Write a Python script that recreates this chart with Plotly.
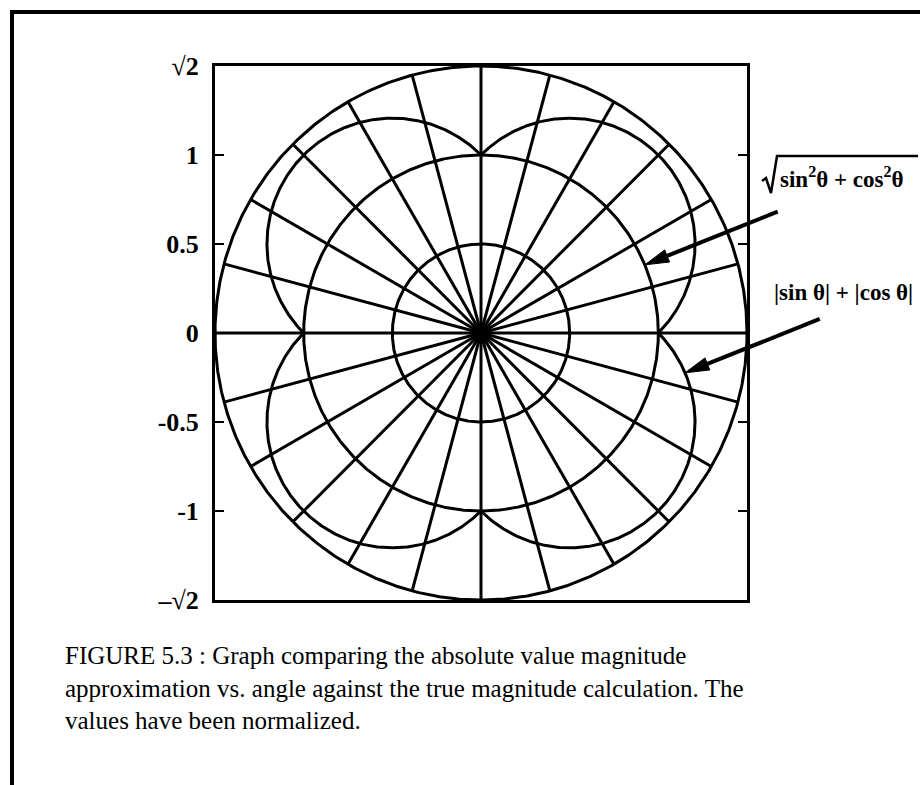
import numpy as np
import plotly.graph_objects as go

# ---- data -----------------------------------------------------------------
grid_radii = [0.5, 1.0, 1.5]                      # concentric rings
spoke_angles_deg = list(range(0, 360, 15))        # radial spokes
spoke_length = 1.5
curve_theta_deg = np.linspace(0, 360, 1441)       # sample angles for |sinθ|+|cosθ|

y_tick_vals = [-1.5, -1, -0.5, 0, 0.5, 1, 1.5]
y_tick_text = ["\u2013\u221a2", "-1", "-0.5", "0", "0.5", "1", "\u221a2"]

true_mag_arrow_deg = 22.5      # arrow target on the unit circle
approx_arrow_deg = -11.0       # arrow target on the |sin|+|cos| curve
true_mag_tail = (1.673, 0.682)
approx_tail = (1.910, 0.079)

caption_lines = [
    "FIGURE 5.3 : Graph comparing the absolute value magnitude",
    "approximation vs. angle against the true magnitude calculation. The",
    "values have been normalized.",
]

# ---- layout geometry (pixels) ---------------------------------------------
W, H = 920, 785
L, R, T, B = 215, 173, 66, 185
PW, PH = W - L - R, H - T - B
AX_MIN, AX_MAX = -1.5, 1.5


def px_to_paper(px, py):
    return (px - L) / PW, (H - B - py) / PH


def data_to_px(x, y):
    px = L + (x - AX_MIN) / (AX_MAX - AX_MIN) * PW
    py = H - B - (y - AX_MIN) / (AX_MAX - AX_MIN) * PH
    return px, py


def paper_path(points, close=False):
    s = "M " + " L ".join(
        "{:.4f},{:.4f}".format(*px_to_paper(px, py)) for px, py in points)
    return s + (" Z" if close else "")


INK = "#000000"
LW = 3

fig = go.Figure()

# rings
t = np.radians(np.linspace(0, 360, 721))
for r in grid_radii:
    fig.add_trace(go.Scatter(x=r * np.cos(t), y=r * np.sin(t), mode="lines",
                             line=dict(color=INK, width=LW), hoverinfo="skip"))

# spokes
sx, sy = [], []
for a in spoke_angles_deg:
    ar = np.radians(a)
    sx += [0, spoke_length * np.cos(ar), None]
    sy += [0, spoke_length * np.sin(ar), None]
fig.add_trace(go.Scatter(x=sx, y=sy, mode="lines",
                         line=dict(color=INK, width=LW), hoverinfo="skip"))

# |sin θ| + |cos θ|
th = np.radians(curve_theta_deg)
rc = np.abs(np.sin(th)) + np.abs(np.cos(th))
fig.add_trace(go.Scatter(x=rc * np.cos(th), y=rc * np.sin(th), mode="lines",
                         line=dict(color=INK, width=LW), hoverinfo="skip"))

# hub
fig.add_trace(go.Scatter(x=[0], y=[0], mode="markers",
                         marker=dict(color=INK, size=21), hoverinfo="skip"))

# arrows: shaft + filled head, drawn as shapes so they may leave the plot box
a1 = np.radians(true_mag_arrow_deg)
head1 = (1.0 * np.cos(a1), 1.0 * np.sin(a1))
a2 = np.radians(approx_arrow_deg)
r2 = abs(np.sin(a2)) + abs(np.cos(a2))
head2 = (r2 * np.cos(a2), r2 * np.sin(a2))

HEAD_LEN, HEAD_HALF = 24, 6.5
for head, tail in [(head1, true_mag_tail), (head2, approx_tail)]:
    hx, hy = data_to_px(*head)
    tx, ty = data_to_px(*tail)
    d = np.hypot(hx - tx, hy - ty)
    ux, uy = (hx - tx) / d, (hy - ty) / d
    bx, by = hx - ux * HEAD_LEN, hy - uy * HEAD_LEN
    nx, ny = -uy, ux
    fig.add_shape(type="path", path=paper_path([(tx, ty), (bx, by)]),
                  xref="paper", yref="paper", line=dict(color=INK, width=4))
    fig.add_shape(type="path", xref="paper", yref="paper",
                  path=paper_path([(hx, hy),
                                   (bx + nx * HEAD_HALF, by + ny * HEAD_HALF),
                                   (bx - nx * HEAD_HALF, by - ny * HEAD_HALF)],
                                  close=True),
                  fillcolor=INK, line=dict(color=INK, width=1))

label_font = dict(family="Liberation Serif", size=23, color=INK)

# √(sin²θ + cos²θ): text plus a drawn radical sign with its vinculum
lx, ly = px_to_paper(778, 178)
fig.add_annotation(x=lx, y=ly, xref="paper", yref="paper", xanchor="left",
                   yanchor="middle", showarrow=False,
                   text="<b>sin<sup>2</sup>\u03b8 + cos<sup>2</sup>\u03b8</b>",
                   font=label_font)
rad_pts = [(762, 181), (766, 178), (771, 193), (777, 156), (918, 156)]
fig.add_shape(type="path", path=paper_path(rad_pts), xref="paper",
              yref="paper", line=dict(color=INK, width=2.5))

# |sin θ| + |cos θ|
lx, ly = px_to_paper(772, 292)
fig.add_annotation(x=lx, y=ly, xref="paper", yref="paper", xanchor="left",
                   yanchor="middle", showarrow=False,
                   text="<b>|sin \u03b8| + |cos \u03b8|</b>", font=label_font)

# caption (one text block, left aligned)
cx, cy = px_to_paper(63, 688)
fig.add_annotation(x=cx, y=cy, xref="paper", yref="paper", xanchor="left",
                   yanchor="middle", align="left", showarrow=False,
                   text="<br>".join(caption_lines),
                   font=dict(family="Liberation Serif", size=25, color=INK))

# outer frame (left and top rules)
fig.add_shape(type="path", xref="paper", yref="paper",
              path=paper_path([(12, 785), (12, 12), (920, 12)]),
              line=dict(color=INK, width=4))

fig.update_layout(
    width=W, height=H, margin=dict(l=L, r=R, t=T, b=B),
    paper_bgcolor="white", plot_bgcolor="white", showlegend=False,
    xaxis=dict(range=[AX_MIN, AX_MAX], showgrid=False, zeroline=False,
               showticklabels=False, ticks="", showline=True, mirror=True,
               linecolor=INK, linewidth=LW),
    yaxis=dict(range=[AX_MIN, AX_MAX], showgrid=False, zeroline=False,
               tickvals=y_tick_vals, ticktext=y_tick_text, ticks="inside",
               ticklen=9, tickwidth=2, tickcolor=INK, showline=True,
               mirror="ticks", linecolor=INK, linewidth=LW,
               ticklabelstandoff=8,
               tickfont=dict(family="Liberation Serif", size=26, color=INK,
                             weight="bold")),
)

fig.write_html("out.html")
